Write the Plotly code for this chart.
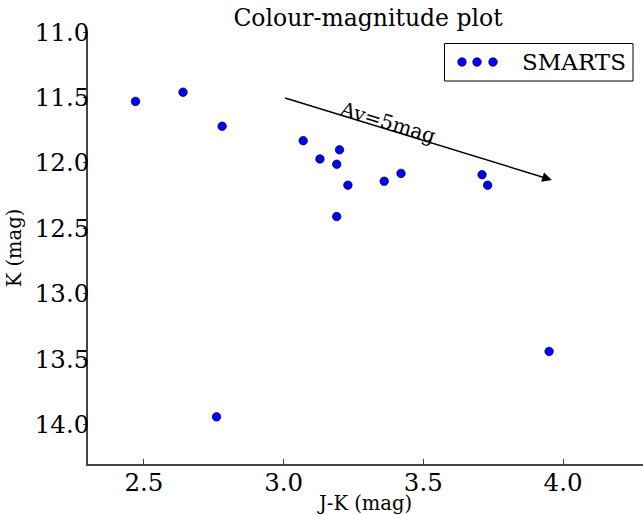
import plotly.graph_objects as go

# Data
jk = [2.47, 2.64, 2.78, 3.07, 3.13, 3.19, 3.20, 3.23, 3.19, 3.36, 3.42, 3.71, 3.73, 3.95, 2.76]
kmag = [11.53, 11.46, 11.72, 11.83, 11.97, 12.01, 11.90, 12.17, 12.41, 12.14, 12.08, 12.09, 12.17, 13.44, 13.94]
series_name = "SMARTS"
arrow_start = (3.0, 11.5)
arrow_end = (3.96, 12.13)
arrow_label = "Av=5mag"
x_ticks = [2.5, 3.0, 3.5, 4.0]
y_ticks = [11.0, 11.5, 12.0, 12.5, 13.0, 13.5, 14.0]

W, H = 643, 515
L, T, B, R = 88, 32, 51, 0
FONT = "DejaVu Serif"
SPINE = "#444444"

fig = go.Figure()
fig.add_trace(go.Scatter(
    x=jk, y=kmag, mode="markers", name=series_name, showlegend=False,
    marker=dict(size=8.5, color="#0000ff", line=dict(color="black", width=0.7)),
    xaxis="x", yaxis="y"))

# custom legend (three markers like matplotlib's default numpoints=3)
fig.add_trace(go.Scatter(
    x=[462, 477, 493], y=[62, 62, 62], mode="markers", showlegend=False,
    hoverinfo="skip",
    marker=dict(size=8.5, color="#0000ff", line=dict(color="black", width=0.7)),
    xaxis="x3", yaxis="y3"))

fig.add_shape(type="rect", xref="x3", yref="y3", x0=444.5, x1=633, y0=43.5, y1=81,
              line=dict(color="black", width=1), fillcolor="rgba(0,0,0,0)")
fig.add_annotation(xref="x3", yref="y3", x=574, y=62, text=series_name, showarrow=False,
                   font=dict(family=FONT, size=23, color="black"), xanchor="center", yanchor="middle")

# reddening arrow
fig.add_annotation(x=arrow_end[0], y=arrow_end[1], ax=arrow_start[0], ay=arrow_start[1],
                   xref="x", yref="y", axref="x", ayref="y", text="", showarrow=True,
                   arrowhead=2, arrowsize=1.3, arrowwidth=1.5, arrowcolor="black", standoff=0)
fig.add_annotation(x=3.37, y=11.69, xref="x", yref="y", text=arrow_label, showarrow=False,
                   textangle=17, font=dict(family=FONT, size=20, color="black"))

axis_common = dict(showgrid=False, zeroline=False, tickcolor=SPINE, linecolor=SPINE, automargin=False)

fig.update_layout(
    width=W, height=H, margin=dict(l=L, r=R, t=T, b=B, autoexpand=False),
    paper_bgcolor="white", plot_bgcolor="white",
    title=dict(text="Colour-magnitude plot", x=368 / W, xanchor="center",
               y=1 - 18 / H, yanchor="middle", font=dict(family=FONT, size=23.5, color="black"),
               automargin=False),
    xaxis=dict(range=[2.3, 4.286], tickvals=x_ticks, ticktext=[f"{v:.1f}" for v in x_ticks],
               ticks="inside", ticklen=5, tickwidth=1, showline=True, linewidth=1.5,
               tickfont=dict(family=FONT, size=24.5, color="black"), ticklabelstandoff=-4,
               title=dict(text="J-K (mag)", font=dict(family=FONT, size=19.5, color="black"), standoff=0),
               **axis_common),
    xaxis2=dict(overlaying="x", matches="x", side="top", tickvals=x_ticks, ticks="inside",
                ticklen=5, showticklabels=False, showline=True, linewidth=1.5, **axis_common),
    yaxis=dict(range=[14.3, 11.0], tickvals=y_ticks, ticktext=[f"{v:.1f}" for v in y_ticks],
               ticks="outside", ticklen=3, tickwidth=1, showline=True, linewidth=1.5,
               tickfont=dict(family=FONT, size=24.5, color="black"), ticklabelstandoff=-11,
               title=dict(text="K (mag)", font=dict(family=FONT, size=19.5, color="black"), standoff=8),
               **axis_common),
    yaxis2=dict(overlaying="y", matches="y", side="right", tickvals=y_ticks, ticks="inside",
                ticklen=5, showticklabels=False, showline=False, **axis_common),
    xaxis3=dict(overlaying="x", range=[L, W - R], visible=False, fixedrange=True),
    yaxis3=dict(overlaying="y", range=[H - B, T], visible=False, fixedrange=True),
)

fig.write_html("out.html", config={"displayModeBar": False},
               post_script="document.body.style.margin='0';document.body.style.overflow='hidden';")
